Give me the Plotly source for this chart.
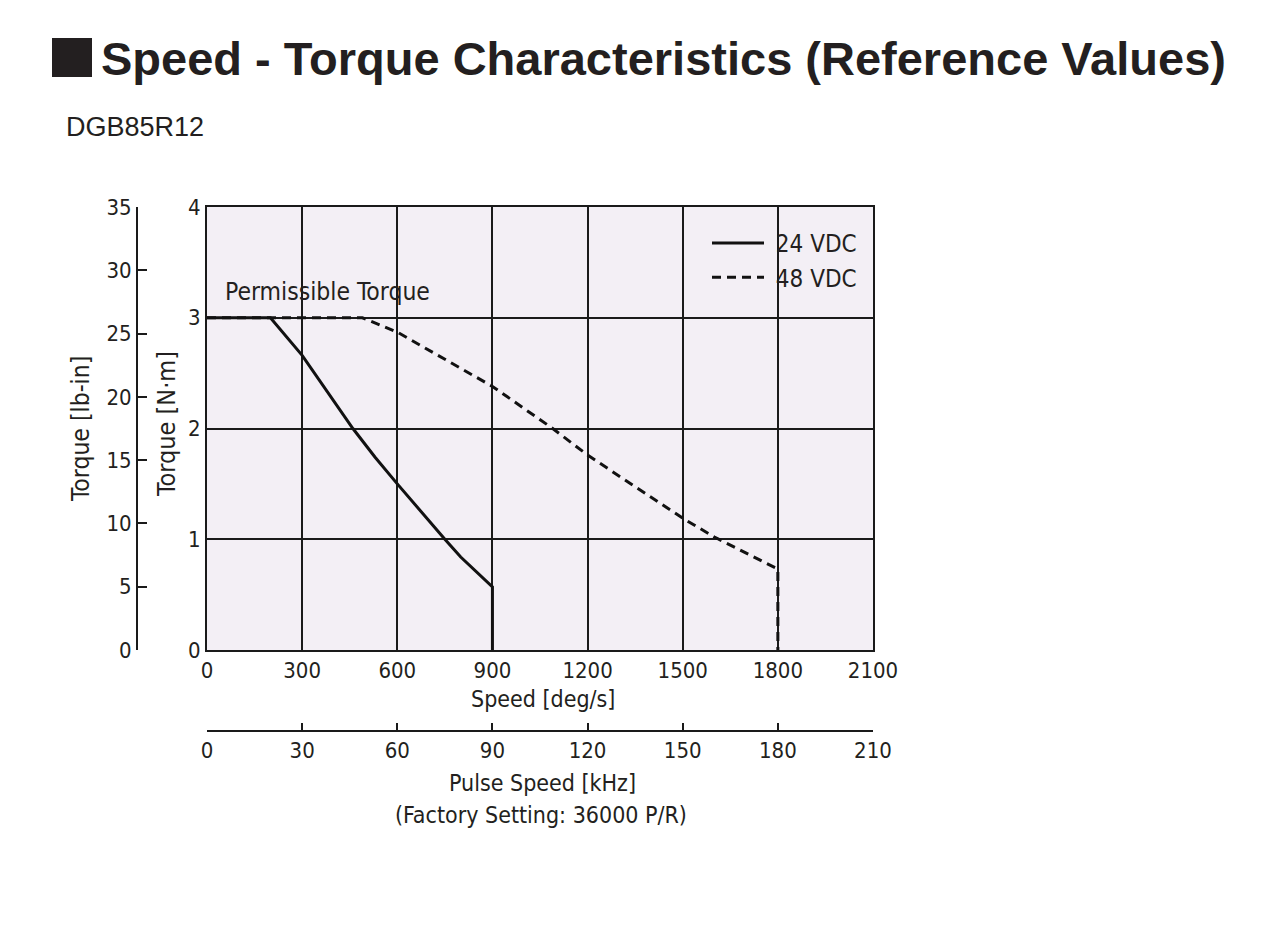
import plotly.graph_objects as go

# ---- data ----
speed_24 = [0, 200, 300, 460, 530, 600, 750, 800, 900, 900]
torque_24 = [3.0, 3.0, 2.66, 2.0, 1.74, 1.5, 1.0, 0.84, 0.57, 0.0]

speed_48 = [0, 490, 600, 900, 1090, 1200, 1500, 1600, 1800, 1800]
torque_48 = [3.0, 3.0, 2.87, 2.38, 2.0, 1.76, 1.19, 1.02, 0.73, 0.0]

speed_ticks = [0, 300, 600, 900, 1200, 1500, 1800, 2100]
pulse_ticks = [0, 30, 60, 90, 120, 150, 180, 210]
nm_ticks = [0, 1, 2, 3, 4]
lbin_ticks = [0, 5, 10, 15, 20, 25, 30, 35]

# ---- layout geometry helpers (target page pixel -> paper) ----
W, H = 1280, 929
OFF = 8  # page body margin
ML, MR, MT, MB = 52, 1280 - (873 - OFF), 207 - OFF, 100
PW, PH = W - ML - MR, H - MT - MB


def px(x):
    return (x - OFF - ML) / PW


def py(y):
    return (H - MB - (y - OFF)) / PH


TXT = "#231f20"
NARROW = "Liberation Sans Narrow, DejaVu Sans Condensed, Arial Narrow, sans-serif"
SANS = "Liberation Sans, Arial, Helvetica, sans-serif"
TICKSZ = 22
LBLSZ = 23

fig = go.Figure()
fig.add_trace(go.Scatter(x=speed_24, y=torque_24, mode="lines", name="\u00a024 VDC",
                         line=dict(color="#111111", width=3), hoverinfo="skip"))
fig.add_trace(go.Scatter(x=speed_48, y=torque_48, mode="lines", name="\u00a048 VDC",
                         line=dict(color="#111111", width=3, dash="9px,6px"),
                         hoverinfo="skip"))

fig.update_layout(
    width=W, height=H,
    margin=dict(l=ML, r=MR, t=MT, b=MB, pad=0),
    paper_bgcolor="white",
    plot_bgcolor="#f3eff5",
    font=dict(family=NARROW, size=TICKSZ, color=TXT),
    xaxis=dict(domain=[px(207), 1], range=[0, 2100], tickvals=speed_ticks,
               showgrid=True, gridcolor="#1a1a1a", gridwidth=2,
               showline=True, linecolor="#1a1a1a", linewidth=2, mirror=True,
               ticks="", zeroline=False, tickfont=dict(size=TICKSZ, family=NARROW)),
    yaxis=dict(domain=[py(650), 1], range=[0, 4], tickvals=nm_ticks,
               showgrid=True, gridcolor="#1a1a1a", gridwidth=2,
               showline=True, linecolor="#1a1a1a", linewidth=2, mirror=True,
               ticks="", zeroline=False, tickfont=dict(size=TICKSZ, family=NARROW)),
    xaxis2=dict(overlaying="x", anchor="free", position=py(731), side="bottom",
                range=[0, 210], tickvals=pulse_ticks, showgrid=False,
                showline=True, linecolor="#1a1a1a", linewidth=2,
                ticks="inside", ticklen=7, tickwidth=2, tickcolor="#1a1a1a",
                zeroline=False, tickfont=dict(size=TICKSZ, family=NARROW)),
    yaxis2=dict(overlaying="y", anchor="free", position=px(137), side="left",
                range=[0, 35], tickvals=lbin_ticks, showgrid=False,
                showline=True, linecolor="#1a1a1a", linewidth=2,
                ticks="inside", ticklen=9, tickwidth=2, tickcolor="#1a1a1a",
                zeroline=False, tickfont=dict(size=TICKSZ, family=NARROW)),
    legend=dict(x=px(707), xanchor="left", y=py(221), yanchor="top",
                bgcolor="rgba(0,0,0,0)", itemwidth=52,
                font=dict(size=24, family=NARROW), tracegroupgap=0),
    showlegend=True,
)

# invisible trace so the secondary axes are drawn
fig.add_trace(go.Scatter(x=pulse_ticks, y=[None] * len(pulse_ticks), xaxis="x2", yaxis="y2",
                         mode="lines", showlegend=False, hoverinfo="skip"))

shapes = [dict(type="rect", xref="paper", yref="paper",
               x0=px(52), x1=px(92), y0=py(77), y1=py(38),
               fillcolor="#231f20", line=dict(width=0))]
fig.update_layout(shapes=shapes)

ann = [
    dict(text="<b>Speed - Torque Characteristics (Reference Values)</b>",
         x=px(99), y=py(59), xanchor="left", yanchor="middle",
         font=dict(family=SANS, size=47, color=TXT)),
    dict(text="DGB85R12", x=px(64), y=py(127), xanchor="left", yanchor="middle",
         font=dict(family=SANS, size=27, color=TXT)),
    dict(text="Permissible Torque", x=px(223), y=py(291), xanchor="left", yanchor="middle",
         font=dict(size=24.5, family=NARROW, color=TXT)),
    dict(text="Speed [deg/s]", x=px(543), y=py(699), xanchor="center", yanchor="middle",
         font=dict(size=LBLSZ, family=NARROW, color=TXT)),
    dict(text="Pulse Speed [kHz]", x=px(542), y=py(783), xanchor="center", yanchor="middle",
         font=dict(size=LBLSZ, family=NARROW, color=TXT)),
    dict(text="(Factory Setting: 36000 P/R)", x=px(541), y=py(815), xanchor="center",
         yanchor="middle", font=dict(size=LBLSZ, family=NARROW, color=TXT)),
    dict(text="Torque [lb-in]", x=px(80), y=py(429), xanchor="center", yanchor="middle",
         textangle=-90, font=dict(size=24.5, family=NARROW, color=TXT)),
    dict(text="Torque [N·m]", x=px(166), y=py(424), xanchor="center", yanchor="middle",
         textangle=-90, font=dict(size=25, family=NARROW, color=TXT)),
]
for a in ann:
    a.update(xref="paper", yref="paper", showarrow=False)
fig.update_layout(annotations=ann)

fig.write_html("out.html")
